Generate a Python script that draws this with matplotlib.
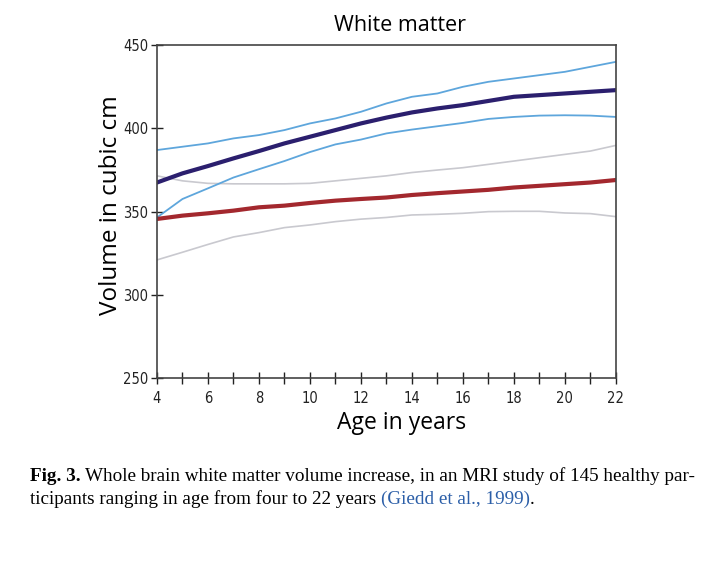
import matplotlib.pyplot as plt
from matplotlib.ticker import MultipleLocator

age = [4, 5, 6, 7, 8, 9, 10, 11, 12, 13, 14, 15, 16, 17, 18, 19, 20, 21, 22]

# boys (blue) mean and bounds
boys_upper = [387, 389, 391, 394, 396, 399, 403, 406, 410, 415, 419, 421, 425, 428, 430, 432, 434, 437, 440]
boys_mean = [367.5, 373, 377.4, 382, 386.4, 391, 395, 399, 403, 406.5, 409.6, 412, 414, 416.5, 419, 420, 421, 422, 423]
boys_lower = [346.5, 357.6, 364, 370.5, 375.5, 380.4, 385.8, 390.4, 393.3, 397, 399.3, 401.3, 403.3, 405.7, 406.9, 407.7, 407.9, 407.7, 406.9]

# girls (red) mean and bounds
girls_upper = [371.5, 368.5, 367, 366.7, 366.7, 366.7, 367, 368.5, 370, 371.5, 373.5, 375, 376.4, 378.4, 380.4, 382.4, 384.4, 386.4, 389.8]
girls_mean = [345.6, 347.6, 349, 350.6, 352.6, 353.6, 355.2, 356.6, 357.6, 358.5, 360, 361.1, 362.1, 363.1, 364.5, 365.5, 366.5, 367.5, 369]
girls_lower = [321, 325.6, 330.3, 334.8, 337.4, 340.4, 342, 344, 345.5, 346.5, 348, 348.4, 349, 350, 350.2, 350.2, 349.2, 348.8, 347]

fig = plt.figure(figsize=(7.12, 5.72), dpi=100)
ax = fig.add_axes([0.2205, 0.339, 0.6445, 0.582])

ax.plot(age, girls_upper, color='#c9c9cf', lw=1.2)
ax.plot(age, girls_lower, color='#c9c9cf', lw=1.2)
ax.plot(age, boys_upper, color='#5ea6dc', lw=1.3)
ax.plot(age, boys_lower, color='#5ea6dc', lw=1.3)
ax.plot(age, girls_mean, color='#a3282e', lw=3)
ax.plot(age, boys_mean, color='#2b1f6e', lw=3)

ax.set_xlim(4, 22)
ax.set_ylim(250, 450)
ax.xaxis.set_major_locator(MultipleLocator(2))
ax.xaxis.set_minor_locator(MultipleLocator(1))
ax.yaxis.set_major_locator(MultipleLocator(50))
ax.tick_params(which='both', direction='inout', length=9, width=1, color='#222222')
ax.tick_params(axis='x', pad=5)
ax.tick_params(axis='y', pad=2)
for sp in ax.spines.values():
    sp.set_color('#444444')
    sp.set_linewidth(1.2)

for lab in ax.get_xticklabels() + ax.get_yticklabels():
    lab.set_family('DejaVu Sans')
    lab.set_stretch('condensed')
    lab.set_fontsize(10.5)
    lab.set_color('#222222')

ax.set_title('White matter', fontsize=15.5, family='Open Sans', pad=10, x=0.53)
ax.set_xlabel('Age in years', fontsize=16.5, family='Open Sans')
ax.set_ylabel('Volume in cubic cm', fontsize=17.5, family='Open Sans')
ax.xaxis.set_label_coords(0.532, -0.1)
ax.yaxis.set_label_coords(-0.073, 0.52)

# caption, built piece by piece
fig.canvas.draw()
r = fig.canvas.get_renderer()
cap_font = ['Liberation Serif', 'DejaVu Serif']
def put(x, y, s, **kw):
    t = fig.text(x, y, s, fontsize=13.8, family=cap_font, transform=None, **kw)
    return t.get_window_extent(r).x1

x = put(30, 572 - 481, 'Fig. 3.', weight='bold')
put(x + 4, 572 - 481, 'Whole brain white matter volume increase, in an MRI study of 145 healthy par-')
x = put(30, 572 - 504, 'ticipants ranging in age from four to 22 years ')
x = put(x, 572 - 504, '(Giedd et al., 1999)', color='#2c5fa8')
put(x, 572 - 504, '.')

fig.savefig('out.png', dpi=100)
